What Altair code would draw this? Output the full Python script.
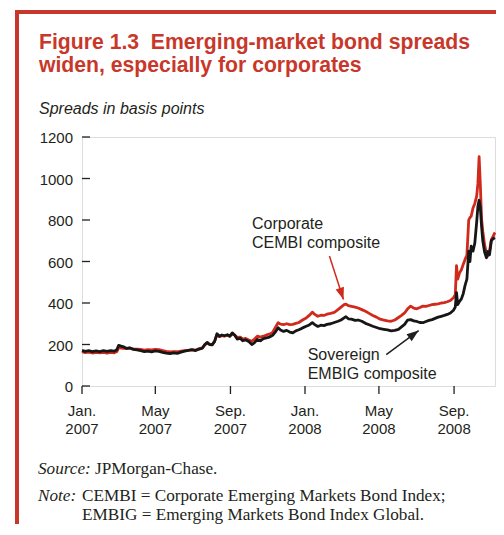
import altair as alt
import pandas as pd

# ---------------- data ----------------
corp_dates = [
    "2007-01-01", "2007-01-06", "2007-01-12", "2007-01-18", "2007-01-24", "2007-01-30",
    "2007-02-05", "2007-02-11", "2007-02-17", "2007-02-23", "2007-02-27", "2007-03-02",
    "2007-03-06", "2007-03-10", "2007-03-15", "2007-03-20", "2007-03-26", "2007-04-01",
    "2007-04-07", "2007-04-13", "2007-04-19", "2007-04-25", "2007-05-01", "2007-05-07",
    "2007-05-13", "2007-05-19", "2007-05-25", "2007-05-31", "2007-06-06", "2007-06-12",
    "2007-06-18", "2007-06-24", "2007-06-30", "2007-07-06", "2007-07-12", "2007-07-17",
    "2007-07-21", "2007-07-25", "2007-07-29", "2007-08-02", "2007-08-06", "2007-08-10",
    "2007-08-14", "2007-08-18", "2007-08-22", "2007-08-27", "2007-08-31", "2007-09-04",
    "2007-09-08", "2007-09-12", "2007-09-17", "2007-09-21", "2007-09-26", "2007-10-01",
    "2007-10-06", "2007-10-10", "2007-10-15", "2007-10-20", "2007-10-25", "2007-10-30",
    "2007-11-04", "2007-11-09", "2007-11-14", "2007-11-18", "2007-11-22", "2007-11-27",
    "2007-12-02", "2007-12-07", "2007-12-12", "2007-12-17", "2007-12-22", "2007-12-28",
    "2008-01-03", "2008-01-08", "2008-01-13", "2008-01-17", "2008-01-22", "2008-01-27",
    "2008-02-01", "2008-02-06", "2008-02-12", "2008-02-18", "2008-02-24", "2008-02-29",
    "2008-03-05", "2008-03-08", "2008-03-12", "2008-03-17", "2008-03-23", "2008-03-28",
    "2008-04-03", "2008-04-09", "2008-04-15", "2008-04-21", "2008-04-27", "2008-05-03",
    "2008-05-09", "2008-05-15", "2008-05-21", "2008-05-27", "2008-06-02", "2008-06-07",
    "2008-06-12", "2008-06-17", "2008-06-22", "2008-06-27", "2008-07-02", "2008-07-07",
    "2008-07-12", "2008-07-17", "2008-07-22", "2008-07-27", "2008-08-01", "2008-08-06",
    "2008-08-11", "2008-08-16", "2008-08-21", "2008-08-26", "2008-08-31", "2008-09-03",
    "2008-09-05", "2008-09-07", "2008-09-10", "2008-09-13", "2008-09-16", "2008-09-19",
    "2008-09-22", "2008-09-25", "2008-09-27", "2008-09-29", "2008-10-02", "2008-10-05",
    "2008-10-08", "2008-10-10", "2008-10-12", "2008-10-14", "2008-10-16", "2008-10-18",
    "2008-10-21", "2008-10-24", "2008-10-26", "2008-10-29", "2008-11-01", "2008-11-04",
    "2008-11-07",
]
corp_values = [
    165, 161, 163, 159, 162, 160,
    162, 159, 162, 160, 166, 185,
    183, 182, 180, 182, 179, 178,
    176, 173, 175, 174, 177, 175,
    171, 167, 164, 166, 165, 168,
    170, 172, 174, 173, 180, 184,
    198, 206, 200, 199, 214, 248,
    238, 243, 240, 245, 240, 251,
    246, 234, 236, 226, 229, 222,
    216, 225, 240, 236, 240, 246,
    250, 258, 285, 305, 298, 296,
    300, 296, 297, 302, 306, 318,
    328, 340, 356, 345, 336, 341,
    340, 346, 350, 355, 368, 380,
    392, 395, 387, 384, 380, 376,
    368, 360, 350, 340, 332, 322,
    318, 314, 312, 318, 330, 340,
    352, 372, 385, 375, 372, 378,
    385, 384, 388, 392, 394, 396,
    400, 402, 406, 412, 425, 440,
    580, 515, 545, 560, 586, 610,
    630, 800, 812, 818, 858, 880,
    915, 975, 1105, 970, 805, 745,
    680, 640, 625, 648, 705, 722,
    740,
]

sov_dates = corp_dates
sov_values = [
    172, 167, 170, 166, 169, 166,
    170, 167, 171, 168, 175, 196,
    192, 189, 181, 184, 176, 174,
    170, 166, 168, 165, 169, 167,
    162, 158, 156, 160, 157, 163,
    168, 172, 175, 171, 178, 182,
    200, 210, 200, 198, 215, 252,
    240, 246, 242, 247, 240, 256,
    245, 226, 230, 218, 222, 214,
    200, 208, 224, 218, 228, 232,
    236, 244, 262, 281, 270, 263,
    268, 260, 256, 266, 271, 280,
    288, 294, 305, 296, 287, 293,
    291, 297, 300, 306, 312, 318,
    328, 334, 324, 322, 316, 318,
    312, 302, 295, 288, 282, 276,
    273, 270, 266, 268, 273, 285,
    297, 318, 320, 314, 311, 306,
    305, 311, 316, 320, 326, 332,
    336, 340, 345, 352, 365, 380,
    450, 392, 408, 420, 445, 485,
    515, 650, 600, 674, 650, 690,
    790, 865, 895, 860, 770, 700,
    645, 618, 648, 632, 700, 710,
    714,
]

series_names = ["Corporate CEMBI composite", "Sovereign EMBIG composite"]
y_ticks = [0, 200, 400, 600, 800, 1000, 1200]
y_tick_labels = ["0", "200", "400", "600", "800", "1000", "1200"]
x_tick_dates = ["2007-01-01", "2007-05-01", "2007-09-01", "2008-01-01", "2008-05-01", "2008-09-01"]
x_tick_labels = ["Jan.\n2007", "May\n2007", "Sep.\n2007", "Jan.\n2008", "May\n2008", "Sep.\n2008"]
x_domain = ["2007-01-01", "2008-11-07"]

# annotation arrows (tail -> tip), in data units
arrow_corp = {"d0": "2008-02-10", "v0": 626, "d1": "2008-03-04", "v1": 417}
arrow_sov = {"d0": "2008-05-13", "v0": 151, "d1": "2008-07-05", "v1": 267}

title_text = "Figure 1.3\u00a0 Emerging-market bond spreads\nwiden, especially for corporates"
subtitle_text = "Spreads in basis points"
corp_label = "Corporate\nCEMBI composite"
sov_label = "Sovereign\nEMBIG composite"

# ---------------- styles ----------------
RED = "#cf2a1c"
FRAME_RED = "#c8382a"
INK = "#231f20"
SANS = "Liberation Sans"
SERIF = "Liberation Serif"

corp_df = pd.DataFrame({"date": corp_dates, "value": corp_values, "series": series_names[0]})
sov_df = pd.DataFrame({"date": sov_dates, "value": sov_values, "series": series_names[1]})
yt_df = pd.DataFrame({"value": y_ticks, "label": y_tick_labels})
xt_df = pd.DataFrame({"date": x_tick_dates, "label": x_tick_labels})


def utc_dt(s):
    return alt.DateTime(year=int(s[:4]), month=int(s[5:7]), date=int(s[8:]), utc=True)


x_scale = alt.Scale(type="utc", domain=[utc_dt(x_domain[0]), utc_dt(x_domain[1])])
y_scale = alt.Scale(domain=[0, 1200], nice=False, zero=True)

# axes: only the domain lines; ticks and labels are drawn from the tick arrays below
x_axis = alt.Axis(title=None, grid=False, ticks=False, labels=False,
                  domainColor=INK, domainWidth=1.3)
y_axis = alt.Axis(title=None, grid=False, ticks=False, labels=False,
                  domainColor=INK, domainWidth=1.3)

one = alt.Data(values=[{}])

frame_left = alt.Chart(one).mark_rule(color=FRAME_RED, strokeWidth=4).encode(
    x=alt.value(-65), y=alt.value(-127), y2=alt.value(400))
frame_top = alt.Chart(one).mark_rule(color=FRAME_RED, strokeWidth=4).encode(
    x=alt.value(-67), x2=alt.value(430), y=alt.value(-125))

title = alt.Chart(one).mark_text(
    align="left", baseline="alphabetic", font=SANS, fontSize=21.2, fontWeight="bold",
    color=FRAME_RED, lineBreak="\n", lineHeight=23.3,
).encode(x=alt.value(-43), y=alt.value(-88), text=alt.value(title_text))

subtitle = alt.Chart(one).mark_text(
    align="left", baseline="alphabetic", font=SANS, fontSize=16, fontStyle="italic", color=INK,
).encode(x=alt.value(-43), y=alt.value(-23.5), text=alt.value(subtitle_text))

corp_line = alt.Chart(corp_df).mark_line(color=RED, strokeWidth=2.8, strokeJoin="round").encode(
    x=alt.X("date:T", scale=x_scale, axis=x_axis),
    y=alt.Y("value:Q", scale=y_scale, axis=y_axis),
)
sov_line = alt.Chart(sov_df).mark_line(color="#161616", strokeWidth=2.8, strokeJoin="round").encode(
    x=alt.X("date:T", scale=x_scale, axis=None),
    y=alt.Y("value:Q", scale=y_scale, axis=None),
)

# y ticks (pointing inward) and labels
y_tick_marks = alt.Chart(yt_df).mark_rule(color=INK, strokeWidth=1.3).encode(
    y=alt.Y("value:Q", scale=y_scale, axis=None), x=alt.value(0), x2=alt.value(8))
y_tick_text = alt.Chart(yt_df).mark_text(
    align="right", baseline="middle", font=SANS, fontSize=15, color=INK, dy=1).encode(
    y=alt.Y("value:Q", scale=y_scale, axis=None), x=alt.value(-9), text="label:N")

# x ticks (pointing outward) and two-line labels
x_tick_marks = alt.Chart(xt_df).mark_rule(color=INK, strokeWidth=1.3).encode(
    x=alt.X("date:T", scale=x_scale, axis=None), y=alt.value(249), y2=alt.value(257))
x_tick_text = alt.Chart(xt_df).mark_text(
    align="center", baseline="alphabetic", font=SANS, fontSize=15, color=INK,
    lineBreak="\n", lineHeight=18.4).encode(
    x=alt.X("date:T", scale=x_scale, axis=None), y=alt.value(278.5), text="label:N")

ann_style = dict(align="left", baseline="alphabetic", font=SANS, fontSize=16, color=INK,
                 lineBreak="\n", lineHeight=19)
corp_text = alt.Chart(one).mark_text(**ann_style).encode(
    x=alt.value(170), y=alt.value(92), text=alt.value(corp_label))
sov_text = alt.Chart(one).mark_text(**ann_style).encode(
    x=alt.value(225.7), y=alt.value(223.4), text=alt.value(sov_label))

HEAD = "M0,0L-0.4,1.1L0.4,1.1Z"


def arrow(a, color, angle):
    df = pd.DataFrame([a])
    shaft = alt.Chart(df).mark_rule(color=color, strokeWidth=1.5).encode(
        x=alt.X("d0:T", scale=x_scale, axis=None), y=alt.Y("v0:Q", scale=y_scale, axis=None),
        x2="d1:T", y2="v1:Q")
    head = alt.Chart(df).mark_point(shape=HEAD, filled=True, size=470, angle=angle,
                                    color=color, opacity=1, strokeWidth=0).encode(
        x=alt.X("d1:T", scale=x_scale, axis=None), y=alt.Y("v1:Q", scale=y_scale, axis=None))
    return shaft + head


corp_arrow = arrow(arrow_corp, RED, 162)
sov_arrow = arrow(arrow_sov, INK, 53)

src_style = dict(align="left", baseline="alphabetic", font=SERIF, fontSize=17.2, color=INK)
src1 = alt.Chart(one).mark_text(fontStyle="italic", **src_style).encode(
    x=alt.value(-44), y=alt.value(336.7), text=alt.value("Source:"))
src2 = alt.Chart(one).mark_text(**src_style).encode(
    x=alt.value(13), y=alt.value(336.7), text=alt.value("JPMorgan-Chase."))
note1 = alt.Chart(one).mark_text(fontStyle="italic", **src_style).encode(
    x=alt.value(-44), y=alt.value(364.4), text=alt.value("Note:"))
note2 = alt.Chart(one).mark_text(**src_style).encode(
    x=alt.value(0), y=alt.value(364.4),
    text=alt.value("CEMBI = Corporate Emerging Markets Bond Index;"))
note3 = alt.Chart(one).mark_text(**src_style).encode(
    x=alt.value(0), y=alt.value(382.7),
    text=alt.value("EMBIG = Emerging Markets Bond Index Global."))

chart = alt.layer(
    corp_line, sov_line, y_tick_marks, y_tick_text, x_tick_marks, x_tick_text,
    frame_left, frame_top, title, subtitle,
    corp_text, sov_text, corp_arrow, sov_arrow, src1, src2, note1, note2, note3,
).properties(
    width=413, height=249,
    autosize=alt.AutoSizeParams(type="none"),
    padding={"left": 74, "top": 129, "right": 1, "bottom": 138},
).configure_view(stroke=None).configure(background="white")

chart.save("out.html", embed_options={"renderer": "svg", "actions": False})
